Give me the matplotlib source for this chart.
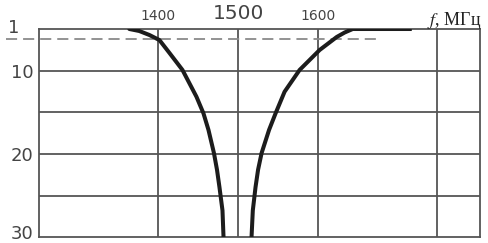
import numpy as np
import matplotlib.pyplot as plt
from matplotlib.transforms import ScaledTranslation

# частота, МГц / затухание, дБ
f_left = [1363.5, 1376, 1388.7, 1401.3, 1413.8, 1430.2, 1447.8, 1456.6, 1462.9, 1469.8, 1473.6, 1476.7, 1480.5, 1481.8]
a_left = [0, 0.2, 0.6, 1.3, 4.9, 9.7, 13.1, 15.1, 17.1, 19.9, 21.9, 24.0, 26.8, 30]

f_right = [1718.3, 1644.1, 1634, 1624.0, 1602.5, 1577.4, 1558.5, 1547.2, 1539.0, 1529.6, 1525.2, 1522.0, 1518.6, 1517.0]
a_right = [0, 0, 0.35, 0.8, 4.1, 9.7, 12.5, 15.1, 17.1, 19.9, 21.9, 24.0, 26.8, 30]

level_f = [1209, 1674]
level_a = [1, 1]

xgrid = [1400, 1500, 1600, 1750]
xtick_labels = ['1400', '1500', '1600']
ygrid = [10, 15, 20, 25]
ytick_vals = [10, 20, 30]
ytick_labels = ['10', '20', '30']

# неравномерная шкала по вертикали, как на рисунке
a_pts = [0, 1, 10, 30]
p_pts = [0, 10, 42, 208]

def fwd(a):
  return np.interp(a, a_pts, p_pts)

def inv(p):
  return np.interp(p, p_pts, a_pts)

plt.rcParams['lines.scale_dashes'] = False
plt.rcParams['mathtext.fontset'] = 'stix'

fig = plt.figure(figsize=(4.89, 2.43), dpi=100)
ax = fig.add_axes([39/489, 1 - 237/243, 441/489, 208/243])

ax.set_yscale('function', functions=(fwd, inv))
ax.set_xlim(1250, 1804)
ax.set_ylim(30, 0)

grid_col = '#555555'
for x in xgrid:
  ax.axvline(x, color=grid_col, lw=1.3, zorder=1)
for y in ygrid:
  ax.axhline(y, color=grid_col, lw=1.3, zorder=1)

ax.plot(level_f, level_a, color='#8a8a8a', lw=1.3, dashes=(8, 4.3), clip_on=False, zorder=2)
ax.plot(f_left, a_left, color='#1c1c1c', lw=2.9, solid_capstyle='round', solid_joinstyle='round', zorder=3)
ax.plot(f_right, a_right, color='#1c1c1c', lw=2.9, solid_capstyle='butt', solid_joinstyle='round', zorder=3)

for s in ax.spines.values():
  s.set_color(grid_col)
  s.set_linewidth(1.3)

ax.xaxis.tick_top()
ax.set_xticks(xgrid[:3])
ax.set_xticklabels(xtick_labels)
ax.tick_params(axis='x', length=0, pad=4, labelsize=10, labelcolor='#444444')
ax.get_xticklabels()[1].set_fontsize(14.5)

ax.set_yticks(ytick_vals)
ax.set_yticklabels(ytick_labels)
ax.yaxis.set_minor_locator(plt.NullLocator())
ax.tick_params(axis='y', length=0, pad=4, labelsize=13, labelcolor='#444444')
lab30 = ax.get_yticklabels()[-1]
lab30.set_transform(lab30.get_transform() + ScaledTranslation(0, 5/100, fig.dpi_scale_trans))

# метка уровня 1 дБ над пунктиром
ax.text(-25/441, 1, '1', transform=ax.get_yaxis_transform() + ScaledTranslation(0, 6/100, fig.dpi_scale_trans),
        fontsize=13, color='#444444', ha='center', va='baseline')

ax.text(1737, 1.019, '$f$, МГц', transform=ax.get_xaxis_transform(),
        family='Liberation Serif', fontsize=13, color='#222222', ha='left', va='baseline')

fig.savefig('out.png', dpi=100)
